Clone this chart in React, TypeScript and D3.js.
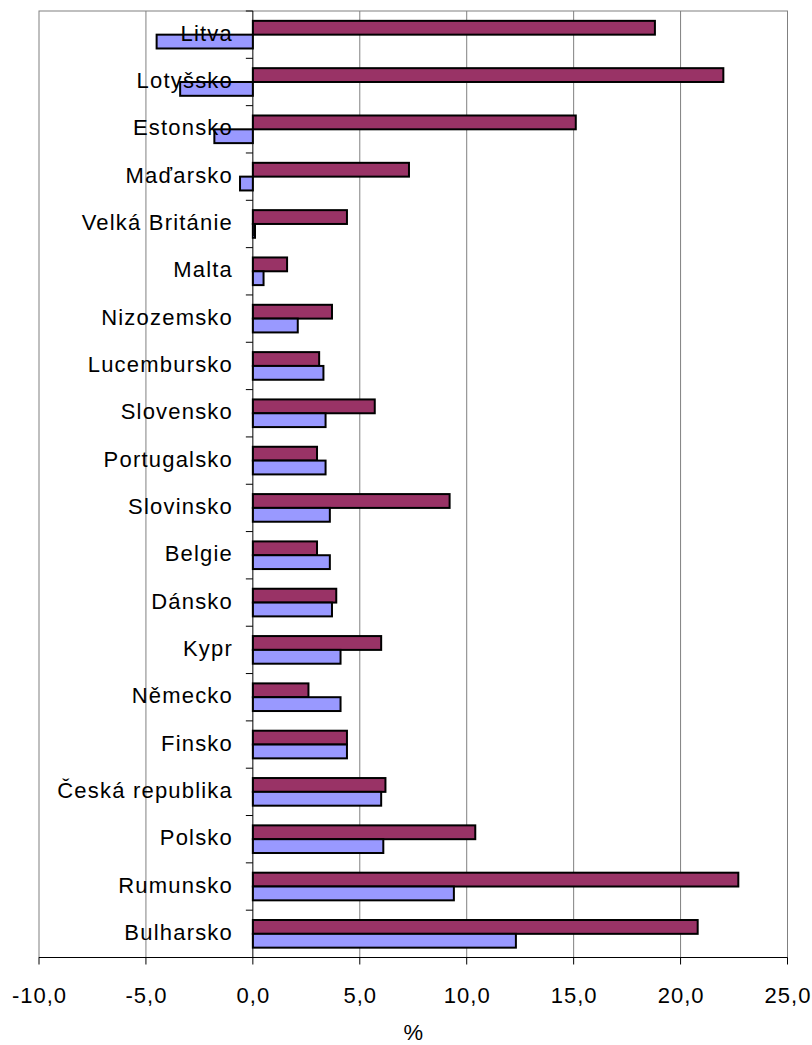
import React from "react";
import * as d3 from "d3";

const categories = [
  "Litva", "Lotyšsko", "Estonsko", "Maďarsko", "Velká Británie", "Malta",
  "Nizozemsko", "Lucembursko", "Slovensko", "Portugalsko", "Slovinsko",
  "Belgie", "Dánsko", "Kypr", "Německo", "Finsko", "Česká republika",
  "Polsko", "Rumunsko", "Bulharsko",
];
const seriesRed = [18.8, 22.0, 15.1, 7.3, 4.4, 1.6, 3.7, 3.1, 5.7, 3.0, 9.2, 3.0, 3.9, 6.0, 2.6, 4.4, 6.2, 10.4, 22.7, 20.8];
const seriesBlue = [-4.5, -3.4, -1.8, -0.6, 0.1, 0.5, 2.1, 3.3, 3.4, 3.4, 3.6, 3.6, 3.7, 4.1, 4.1, 4.4, 6.0, 6.1, 9.4, 12.3];
const xTicks = [-10, -5, 0, 5, 10, 15, 20, 25];
const seriesKeys = ["red", "blue"];
const axisTitle = "%";

const W = 812;
const H = 1045;
const left = 39;
const right = 787.5;
const top = 11;
const bottom = 957.5;
const FONT = "'Liberation Sans', Arial, sans-serif";

export default function App() {
  const x = d3.scaleLinear().domain([-10, 25]).range([left, right]);
  const y = d3.scaleBand<string>().domain(categories).range([top, bottom]).padding(0);
  const bw = y.bandwidth();
  const y1 = d3.scaleBand<string>().domain(seriesKeys).range([bw * 0.208, bw * 0.792]).padding(0);
  const fmt = (v: number) => v.toFixed(1).replace(".", ",");
  const colors: Record<string, string> = { red: "#993366", blue: "#9999FF" };
  const boundaries = d3.range(categories.length + 1).map((i) => top + i * bw);

  return (
    <svg width={W} height={H} style={{ position: "absolute", left: 0, top: 0, background: "#fff" }}>
      <rect x={0} y={0} width={W} height={H} fill="#fff" />
      {/* plot border */}
      <rect x={left} y={top} width={right - left} height={bottom - top} fill="none" stroke="#808080" strokeWidth={1} />
      {/* gridlines */}
      {xTicks.filter((t) => t !== -10 && t !== 0 && t !== 25).map((t) => (
        <line key={"g" + t} x1={x(t)} x2={x(t)} y1={top} y2={bottom} stroke="#808080" strokeWidth={1} />
      ))}
      {/* bars */}
      {categories.map((c, i) => {
        const vals: Record<string, number> = { red: seriesRed[i], blue: seriesBlue[i] };
        return seriesKeys.map((k) => {
          const v = vals[k];
          const x0 = x(Math.min(0, v));
          const x1 = x(Math.max(0, v));
          return (
            <rect
              key={c + k}
              x={x0}
              y={(y(c) as number) + (y1(k) as number)}
              width={Math.max(x1 - x0, 0.5)}
              height={y1.bandwidth()}
              fill={colors[k]}
              stroke="#000"
              strokeWidth={2}
            />
          );
        });
      })}
      {/* category axis */}
      <line x1={x(0)} x2={x(0)} y1={top} y2={bottom} stroke="#000" strokeWidth={1} />
      {boundaries.map((b, i) => (
        <line key={"ct" + i} x1={x(0) - 7} x2={x(0)} y1={b} y2={b} stroke="#000" strokeWidth={1} />
      ))}
      {/* value axis */}
      <line x1={left} x2={right} y1={bottom} y2={bottom} stroke="#000" strokeWidth={1} />
      {xTicks.map((t) => (
        <g key={"t" + t}>
          <line x1={x(t)} x2={x(t)} y1={bottom} y2={bottom + 7} stroke="#000" strokeWidth={1} />
          <text x={x(t) + 0.5} y={1003} textAnchor="middle" fontFamily={FONT} fontSize={22} letterSpacing={1} fill="#000">
            {fmt(t)}
          </text>
        </g>
      ))}
      {/* category labels */}
      {categories.map((c) => (
        <text
          key={"l" + c}
          x={233}
          y={(y(c) as number) + bw / 2 + 6}
          textAnchor="end"
          fontFamily={FONT}
          fontSize={22}
          letterSpacing={1.2}
          fill="#000"
        >
          {c}
        </text>
      ))}
      <text x={(left + right) / 2} y={1040} textAnchor="middle" fontFamily={FONT} fontSize={22} fill="#000">
        {axisTitle}
      </text>
    </svg>
  );
}
